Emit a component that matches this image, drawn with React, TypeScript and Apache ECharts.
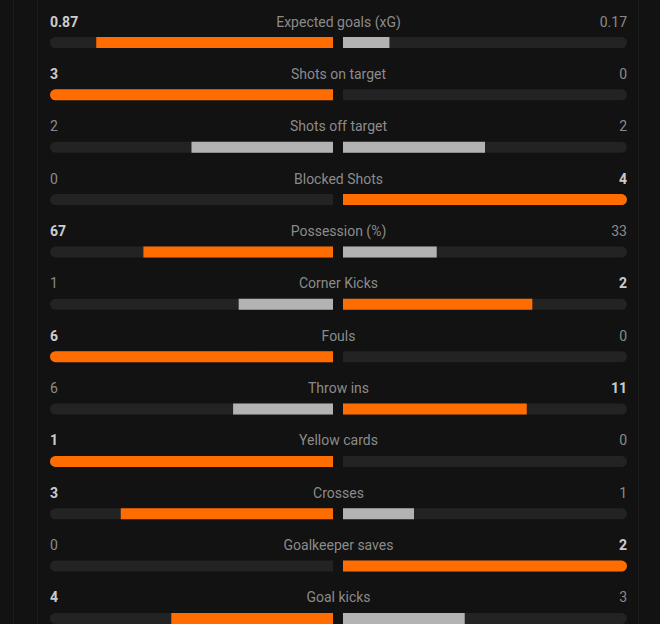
import React, { useEffect, useRef } from "react";
import * as echarts from "echarts";

const categories = [
  "Expected goals (xG)",
  "Shots on target",
  "Shots off target",
  "Blocked Shots",
  "Possession (%)",
  "Corner Kicks",
  "Fouls",
  "Throw ins",
  "Yellow cards",
  "Crosses",
  "Goalkeeper saves",
  "Goal kicks",
];
const homeValues = [0.87, 3, 2, 0, 67, 1, 6, 6, 1, 3, 0, 4];
const awayValues = [0.17, 0, 2, 4, 33, 2, 0, 11, 0, 1, 2, 3];
const homeLabels = ["0.87", "3", "2", "0", "67", "1", "6", "6", "1", "3", "0", "4"];
const awayLabels = ["0.17", "0", "2", "4", "33", "2", "0", "11", "0", "1", "2", "3"];

const BG = "#121212";
const TRACK = "#232323";
const ORANGE = "#ff6d00";
const GREY = "#b3b3b3";
const TEXT_GREY = "#acacac";
const R = 5.5;

export default function App() {
  const ref = useRef<HTMLDivElement>(null);
  useEffect(() => {
    document.body.style.margin = "0";
    document.body.style.background = BG;
    document.body.style.overflow = "hidden";
    const chart = echarts.init(ref.current!, null, { renderer: "svg" });
    const n = categories.length;
    const rowH = 52.36;
    const top = 42.5 - rowH / 2;
    const gridH = rowH * n;

    const share = (i: number, side: "h" | "a") => {
      const t = homeValues[i] + awayValues[i];
      if (t === 0) return 0;
      return (side === "h" ? homeValues[i] : awayValues[i]) / t;
    };
    const colorFor = (i: number, side: "h" | "a") => {
      const me = side === "h" ? homeValues[i] : awayValues[i];
      const other = side === "h" ? awayValues[i] : homeValues[i];
      return me > other ? ORANGE : GREY;
    };

    const homeData = categories.map((_, i) => {
      const v = share(i, "h");
      return {
        value: v,
        itemStyle: {
          color: colorFor(i, "h"),
          borderRadius: v >= 0.999 ? [R, 0, 0, R] : 0,
        },
      };
    });
    const awayData = categories.map((_, i) => {
      const v = share(i, "a");
      return {
        value: v,
        itemStyle: {
          color: colorFor(i, "a"),
          borderRadius: v >= 0.999 ? [0, R, R, 0] : 0,
        },
      };
    });

    const yAxisBase = (gridIndex: number) => ({
      type: "category" as const,
      gridIndex,
      data: categories,
      inverse: true,
      axisLine: { show: false },
      axisTick: { show: false },
      axisLabel: { show: false },
      splitLine: { show: false },
    });
    const xAxisBase = (gridIndex: number, inverse: boolean) => ({
      type: "value" as const,
      gridIndex,
      min: 0,
      max: 1,
      inverse,
      axisLine: { show: false },
      axisTick: { show: false },
      axisLabel: { show: false },
      splitLine: { show: false },
    });

    const labelSeries = (
      x: number,
      align: "left" | "center" | "right",
      texts: string[],
      styleFor: (i: number) => { color: string; fontWeight: any }
    ) => ({
      type: "scatter" as const,
      xAxisIndex: 2,
      yAxisIndex: 2,
      symbolSize: 0,
      silent: true,
      data: texts.map((t, i) => ({
        value: [x, categories[i]],
        label: {
          show: true,
          position: "inside",
          formatter: t,
          align,
          verticalAlign: "middle",
          offset: [0, -21],
          fontSize: 14,
          fontFamily: "Roboto, 'Noto Sans', sans-serif",
          ...styleFor(i),
        },
      })),
    });

    chart.setOption({
      animation: false,
      backgroundColor: BG,
      grid: [
        { left: 50, width: 283, top, height: gridH },
        { left: 343, width: 284, top, height: gridH },
        { left: 50, width: 577, top, height: gridH },
      ],
      xAxis: [xAxisBase(0, true), xAxisBase(1, false), xAxisBase(2, false)],
      yAxis: [yAxisBase(0), yAxisBase(1), yAxisBase(2)],
      graphic: [
        { type: "line", shape: { x1: 13.5, y1: 0, x2: 13.5, y2: 700 }, style: { stroke: "#1d1d1d", lineWidth: 1 } },
        { type: "line", shape: { x1: 37.5, y1: 0, x2: 37.5, y2: 700 }, style: { stroke: "#1d1d1d", lineWidth: 1 } },
        { type: "line", shape: { x1: 638.5, y1: 0, x2: 638.5, y2: 700 }, style: { stroke: "#1d1d1d", lineWidth: 1 } },
      ],
      series: [
        {
          type: "bar",
          xAxisIndex: 0,
          yAxisIndex: 0,
          barWidth: 11,
          showBackground: true,
          backgroundStyle: { color: TRACK, borderRadius: [R, 0, 0, R] },
          data: homeData,
          silent: true,
        },
        {
          type: "bar",
          xAxisIndex: 1,
          yAxisIndex: 1,
          barWidth: 11,
          showBackground: true,
          backgroundStyle: { color: TRACK, borderRadius: [0, R, R, 0] },
          data: awayData,
          silent: true,
        },
        labelSeries(0.5, "center", categories, () => ({ color: TEXT_GREY, fontWeight: "normal" })),
        labelSeries(0, "left", homeLabels, (i) =>
          homeValues[i] > awayValues[i]
            ? { color: "#ffffff", fontWeight: "bold" }
            : { color: TEXT_GREY, fontWeight: "normal" }
        ),
        labelSeries(1, "right", awayLabels, (i) =>
          awayValues[i] > homeValues[i]
            ? { color: "#ffffff", fontWeight: "bold" }
            : { color: TEXT_GREY, fontWeight: "normal" }
        ),
      ],
    });
    return () => chart.dispose();
  }, []);
  return (
    <div
      ref={ref}
      style={{ position: "fixed", left: 0, top: 0, width: 660, height: 700, background: BG }}
    />
  );
}
